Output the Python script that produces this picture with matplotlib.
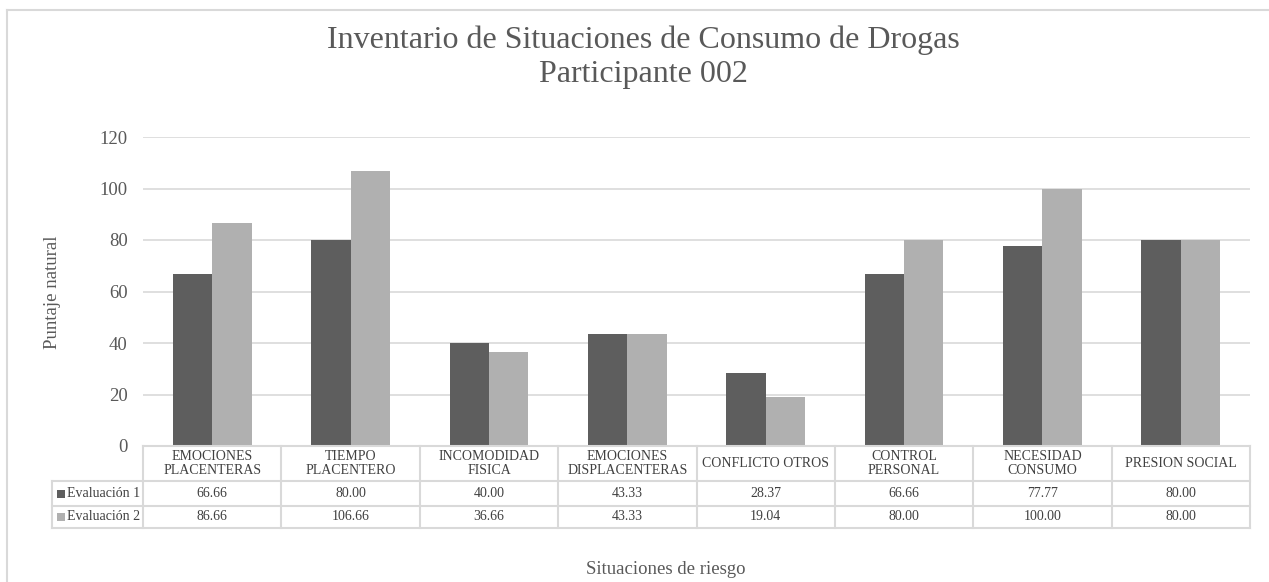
import matplotlib
matplotlib.use("Agg")
import matplotlib.pyplot as plt
from matplotlib.patches import Rectangle
from matplotlib.lines import Line2D
import numpy as np

categories = ["EMOCIONES\nPLACENTERAS", "TIEMPO\nPLACENTERO", "INCOMODIDAD\nFISICA",
              "EMOCIONES\nDISPLACENTERAS", "CONFLICTO OTROS", "CONTROL\nPERSONAL",
              "NECESIDAD\nCONSUMO", "PRESION SOCIAL"]
series_names = ["Evaluación 1", "Evaluación 2"]
eval1 = [66.66, 80.00, 40.00, 43.33, 28.37, 66.66, 77.77, 80.00]
eval2 = [86.66, 106.66, 36.66, 43.33, 19.04, 80.00, 100.00, 80.00]
yticks = [0, 20, 40, 60, 80, 100, 120]
title = "Inventario de Situaciones de Consumo de Drogas\nParticipante 002"
ylabel = "Puntaje natural"
xlabel = "Situaciones de riesgo"

colors = ["#5e5e5e", "#b0b0b0"]
grid_c = "#d9d9d9"
text_c = "#595959"
FONT = "Liberation Serif"
plt.rcParams["font.family"] = [FONT, "DejaVu Serif"]

W, H = 1269, 582
fig = plt.figure(figsize=(W / 100, H / 100), dpi=100)

def fx(px):
    return px / W

def fy(py):
    return 1 - py / H

ax_l, ax_r, ax_t, ax_b = 143, 1250, 137, 446
ax = fig.add_axes([fx(ax_l), fy(ax_b), fx(ax_r) - fx(ax_l), fy(ax_t) - fy(ax_b)])

n = len(categories)
x = np.arange(n)
bw = 0.285
ax.bar(x - bw / 2, eval1, bw, color=colors[0], zorder=3)
ax.bar(x + bw / 2, eval2, bw, color=colors[1], zorder=3)
ax.set_xlim(-0.5, n - 0.5)
ax.set_ylim(0, 120)
ax.set_yticks(yticks)
ax.yaxis.grid(True, color=grid_c, linewidth=1.2, zorder=0)
ax.set_xticks([])
for s in ax.spines.values():
    s.set_visible(False)
ax.tick_params(axis="y", length=0, pad=11, labelsize=13.5, labelcolor=text_c)

# outer chart border
fig.add_artist(Line2D([fx(7), fx(7)], [fy(10), 0], transform=fig.transFigure, color=grid_c, lw=1.5))
fig.add_artist(Line2D([fx(7), 1], [fy(10), fy(10)], transform=fig.transFigure, color=grid_c, lw=1.5))

# title & labels
fig.text(fx(643), fy(57), title, ha="center", va="center", fontsize=23,
         color=text_c, linespacing=1.22)
fig.text(fx(52.5), fy(292), ylabel, ha="center", va="center", rotation=90,
         fontsize=13.5, color=text_c)
fig.text(fx(666), fy(570), xlabel, ha="center", va="center", fontsize=13.5, color=text_c)

# data table
rows_y = [446, 481, 506, 528]
tab_left = 52
def xpix(v):
    return ax_l + (v + 0.5) / n * (ax_r - ax_l)

lk = dict(transform=fig.transFigure, color=grid_c, lw=1.5)
fig.add_artist(Line2D([fx(ax_l), fx(ax_r)], [fy(rows_y[0])] * 2, **lk))
for ry in rows_y[1:]:
    fig.add_artist(Line2D([fx(tab_left), fx(ax_r)], [fy(ry)] * 2, **lk))
fig.add_artist(Line2D([fx(tab_left)] * 2, [fy(rows_y[1]), fy(rows_y[3])], **lk))
for i in range(n + 1):
    xp = xpix(i - 0.5)
    fig.add_artist(Line2D([fx(xp)] * 2, [fy(rows_y[0]), fy(rows_y[3])], **lk))

tc = "#404040"
for i, c in enumerate(categories):
    fig.text(fx(xpix(i)), fy((rows_y[0] + rows_y[1]) / 2), c, ha="center", va="center",
             fontsize=10, color=tc, linespacing=1.2)
for r, (vals, name) in enumerate(zip([eval1, eval2], series_names)):
    yc = (rows_y[r + 1] + rows_y[r + 2]) / 2
    for i, v in enumerate(vals):
        fig.text(fx(xpix(i)), fy(yc), f"{v:.2f}", ha="center", va="center",
                 fontsize=10, color=tc)
    fig.add_artist(Rectangle((fx(57), fy(yc + 4)), fx(8), 8 / H, transform=fig.transFigure,
                             color=colors[r], lw=0))
    fig.text(fx(67), fy(yc), name, ha="left", va="center", fontsize=10, color=tc)

fig.savefig("out.png", dpi=100)
